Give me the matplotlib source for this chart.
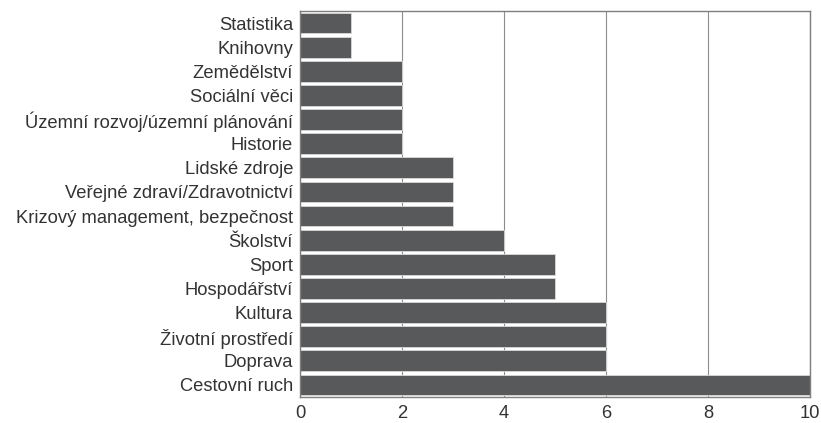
import matplotlib
matplotlib.use("Agg")
import matplotlib.pyplot as plt

categories = ["Statistika", "Knihovny", "Zemědělství", "Sociální věci",
              "Územní rozvoj/územní plánování", "Historie", "Lidské zdroje",
              "Veřejné zdraví/Zdravotnictví", "Krizový management, bezpečnost",
              "Školství", "Sport", "Hospodářství", "Kultura",
              "Životní prostředí", "Doprava", "Cestovní ruch"]
values = [1, 1, 2, 2, 2, 2, 3, 3, 3, 4, 5, 5, 6, 6, 6, 10]
xticks = [0, 2, 4, 6, 8, 10]

plt.rcParams['font.family'] = ['Liberation Sans', 'DejaVu Sans']
fig = plt.figure(figsize=(8.21, 4.23), dpi=100)
ax = fig.add_axes([0.3654, 0.0615, 0.6212, 0.9125])
pos = list(range(len(categories)))
ax.barh(pos, values, height=0.86, color='#58595b', edgecolor='#d9d9d9', linewidth=0.6, zorder=2)
ax.set_ylim(len(categories) - 0.5, -0.5)
ax.set_xlim(0, 10)
ax.set_yticks(pos)
ax.set_yticklabels(categories, fontsize=13.2, color='#333333')
ax.set_xticks(xticks)
ax.set_xticklabels([str(t) for t in xticks], fontsize=13.2, color='#333333')
ax.tick_params(length=0, pad=5)
ax.tick_params(axis='x', pad=6)
ax.grid(axis='x', color='#8c8c8c', linewidth=0.8, zorder=0)
for s in ax.spines.values():
    s.set_color('#7f7f7f')
    s.set_linewidth(1.0)
fig.savefig("out.png", dpi=100)
